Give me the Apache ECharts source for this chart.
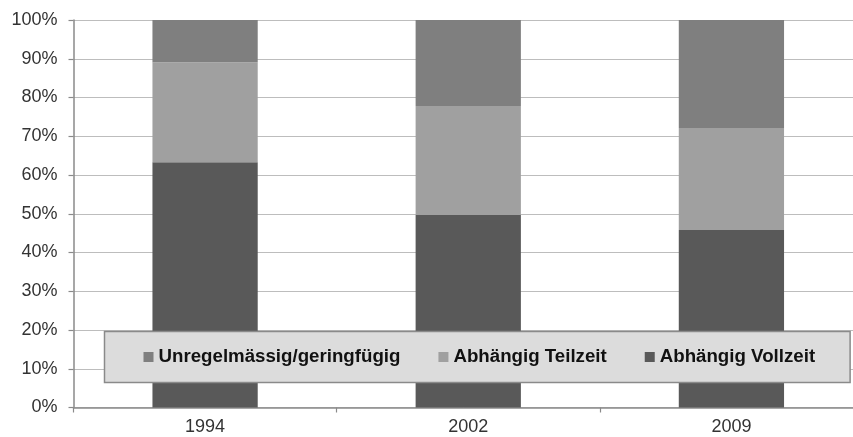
<!DOCTYPE html>
<html>
<head>
<meta charset="utf-8">
<script src="https://cdn.jsdelivr.net/npm/echarts@6/dist/echarts.min.js"></script>
<style>
  html, body { margin: 0; padding: 0; background: #fff; }
  #chart { width: 853px; height: 437px; }
</style>
</head>
<body>
<div id="chart"></div>
<script>
// Erwerbsformen nach Jahr (Anteile in Prozent, gestapelt)
const years = ['1994', '2002', '2009'];
const vollzeit = [63.3, 49.7, 45.8];
const teilzeit = [25.8, 28.1, 26.3];
const unregelmaessig = [10.9, 22.2, 27.9];

const FONT = '"Liberation Sans", Arial, sans-serif';

const chart = echarts.init(document.getElementById('chart'), null, { renderer: 'canvas' });

chart.setOption({
  animation: false,
  backgroundColor: '#ffffff',
  // the plot runs a little past the right edge of the canvas
  grid: { left: 73.5, width: 789.5, top: 20, height: 387.5, containLabel: false, outerBoundsMode: 'none' },
  legend: {
    data: ['Unregelmässig/geringfügig', 'Abhängig Teilzeit', 'Abhängig Vollzeit'],
    left: 104.5,
    top: 331.5,
    orient: 'horizontal',
    icon: 'rect',
    itemWidth: 10,
    itemHeight: 10,
    itemGap: 38,
    padding: [15, 35, 15, 39],
    backgroundColor: '#dcdcdc',
    borderColor: '#8a8a8a',
    borderWidth: 1.5,
    textStyle: { fontFamily: FONT, fontSize: 18.7, fontWeight: 'bold', color: '#111', lineHeight: 21 }
  },
  xAxis: {
    type: 'category',
    data: years,
    axisLine: { lineStyle: { color: '#8a8a8a', width: 1.5 } },
    axisTick: { show: true, length: 5, lineStyle: { color: '#8a8a8a', width: 1.2 } },
    axisLabel: { fontFamily: FONT, fontSize: 18, color: '#333', margin: 11 }
  },
  yAxis: {
    type: 'value',
    min: 0,
    max: 100,
    interval: 10,
    axisLine: { show: true, lineStyle: { color: '#8a8a8a', width: 1.5 } },
    axisTick: { show: true, length: 5, lineStyle: { color: '#8a8a8a', width: 1.2 } },
    axisLabel: { fontFamily: FONT, fontSize: 18, color: '#333', margin: 16, formatter: '{value}%' },
    splitLine: { lineStyle: { color: '#bdbdbd', width: 1 } }
  },
  series: [
    {
      name: 'Abhängig Vollzeit', type: 'bar', stack: 'total', barWidth: '40%',
      data: vollzeit, itemStyle: { color: '#595959' }
    },
    {
      name: 'Abhängig Teilzeit', type: 'bar', stack: 'total', barWidth: '40%',
      data: teilzeit, itemStyle: { color: '#a0a0a0' }
    },
    {
      name: 'Unregelmässig/geringfügig', type: 'bar', stack: 'total', barWidth: '40%',
      data: unregelmaessig, itemStyle: { color: '#7f7f7f' }
    }
  ]
});
</script>
</body>
</html>
